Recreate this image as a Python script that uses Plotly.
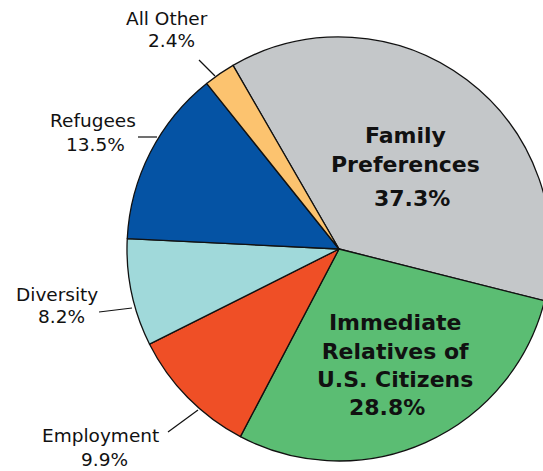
import plotly.graph_objects as go

# ---- data ----
categories = ["Family Preferences", "Immediate Relatives of U.S. Citizens",
              "Employment", "Diversity", "Refugees", "All Other"]
name_lines = ["Family<br>Preferences", "Immediate<br>Relatives of<br>U.S. Citizens",
              "Employment", "Diversity", "Refugees", "All Other"]
shares = [37.3, 28.8, 9.9, 8.2, 13.5, 2.4]
colors = ["#c4c7c9", "#5bbd73", "#ef4f26", "#a0d9da", "#0553a4", "#fcc36f"]

# figure slightly wider than the window: the reference pie is cut at the right edge
W, H = 552, 471
CX, CY, R = 339, 249, 212

def px(x):
    return x / W

def py(y):
    return 1 - y / H

fig = go.Figure()
fig.add_trace(go.Pie(
    labels=categories, values=shares, sort=False, direction="clockwise",
    rotation=330, textinfo="none", hoverinfo="label+percent",
    marker=dict(colors=colors, line=dict(color="#111111", width=1.3)),
    domain=dict(x=[px(CX - R), px(CX + R)], y=[py(CY + R), py(CY - R)]),
    showlegend=False,
))

# label layout: (name center x, name center y, pct center x, pct center y, bold)
label_pos = [
    (405, 150, 412, 198, True),
    (395, 351, 387, 407, True),
    (100, 435, 104, 459, False),
    (57, 294, 61, 316, False),
    (93, 121, 95, 145, False),
    (167, 19, 171, 41, False),
]
leaders = [None, None,
           ((168, 432), (198, 410)),
           ((99, 312), (132, 308)),
           ((138, 137), (157, 137)),
           ((199, 60), (215, 76))]

annotations = []
shapes = []
for name, val, pos, lead in zip(name_lines, shares, label_pos, leaders):
    nx, ny, qx, qy, bold = pos
    f = dict(family="DejaVu Sans", size=22 if bold else 18.5, color="#111111",
             weight="bold" if bold else "normal")
    annotations.append(dict(text=name, x=px(nx), y=py(ny), xref="paper", yref="paper",
                            xanchor="center", yanchor="middle", showarrow=False, font=f))
    annotations.append(dict(text=f"{val:.1f}%", x=px(qx), y=py(qy), xref="paper", yref="paper",
                            xanchor="center", yanchor="middle", showarrow=False, font=f))
    if lead:
        (x0, y0), (x1, y1) = lead
        shapes.append(dict(type="line", xref="paper", yref="paper",
                           x0=px(x0), y0=py(y0), x1=px(x1), y1=py(y1),
                           line=dict(color="#111111", width=1.2)))

fig.update_layout(width=W, height=H, margin=dict(l=0, r=0, t=0, b=0),
                  paper_bgcolor="white", plot_bgcolor="white",
                  annotations=annotations, shapes=shapes)

fig.write_html(
    "out.html",
    config={"displayModeBar": False},
    post_script=("document.body.style.margin='0px';"
                 "document.body.style.overflow='hidden';"
                 "document.documentElement.style.overflow='hidden';"),
)
